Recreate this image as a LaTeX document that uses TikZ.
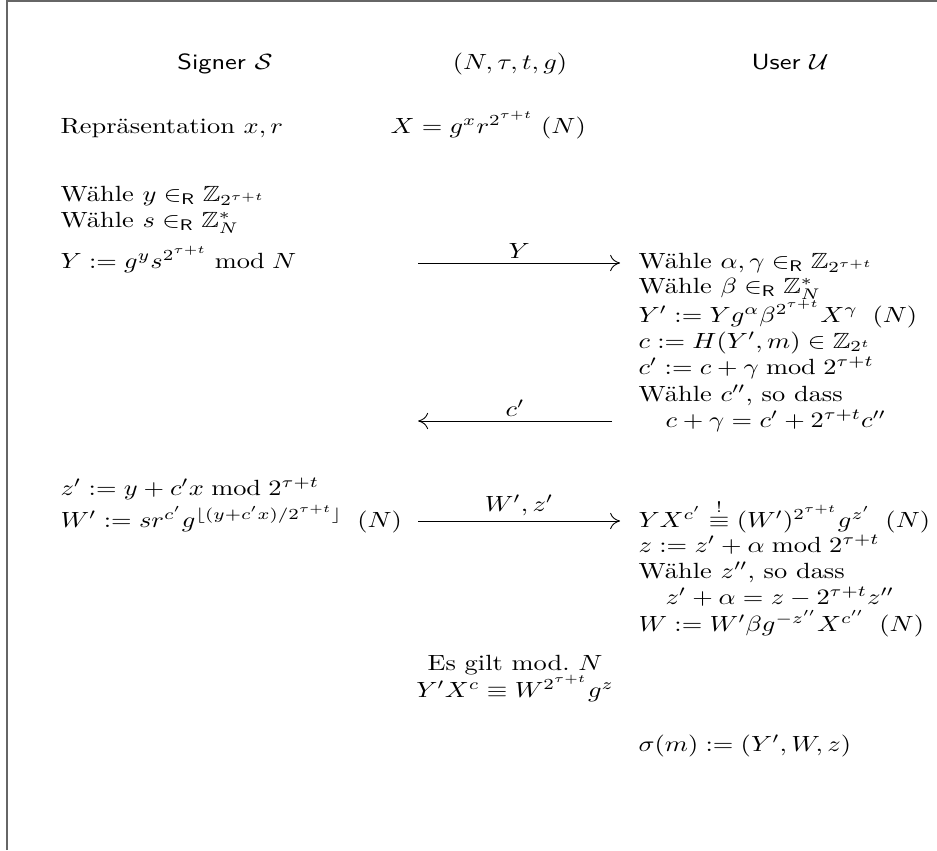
\documentclass[tikz,border=0pt]{standalone}
\usepackage{amsmath,amssymb}
\usepackage{fontspec}
\usepackage{tikz}
\usetikzlibrary{arrows.meta}

\newcommand{\inR}{\in_{\mathsf{R}}}
\newcommand{\tpow}{2^{\tau+t}}

\begin{document}
\begin{tikzpicture}[
  xscale=1.2, x=0.37883pt, y=-0.4546pt,
  frame/.style={draw=black!60, line width=1pt},
  line/.style={anchor=base west, inner sep=0pt, transform shape},
  midline/.style={anchor=base, inner sep=0pt, transform shape},
  head/.style={anchor=base, inner sep=0pt, transform shape},
  msg/.style={-{To[length=1.6mm,width=2.6mm]}, line width=0.4pt},
  lab/.style={above, inner sep=2pt, transform shape}]

\useasboundingbox (0,0) rectangle (937,850);
\draw[frame] (7,850) |- (937,1);

% header
\node[head] (signer) at (225,69) {\textsf{Signer} $\mathcal{S}$};
\node[head] (param) at (510,69) {$(N,\tau,t,g)$};
\node[head] (user) at (790,69) {\textsf{User} $\mathcal{U}$};

% signer
\node[line] (s1) at (60,133) {Repräsentation $x,r$};
\node[line] (s2) at (60,201) {Wähle $y \inR \mathbb{Z}_{\tpow}$};
\node[line] (s3) at (60,227) {Wähle $s \inR \mathbb{Z}_N^*$};
\node[line] (s4) at (60,268) {$Y := g^y s^{\tpow} \bmod N$};
\node[line] (s5) at (60,495) {$z' := y + c'x \bmod \tpow$};
\node[line] (s6) at (60,527) {$W' := s r^{c'} g^{\lfloor (y+c'x)/\tpow \rfloor}\;\;(N)$};

% public
\node[line] (p1) at (390,133) {$X = g^x r^{\tpow}\;(N)$};
\node[midline] (p2) at (515,670) {Es gilt mod.\ $N$};
\node[midline] (p3) at (515,697) {$Y'X^c \equiv W^{\tpow} g^z$};

% user
\node[line] (u1) at (638,268) {Wähle $\alpha,\gamma \inR \mathbb{Z}_{\tpow}$};
\node[line] (u2) at (638,293) {Wähle $\beta \inR \mathbb{Z}_N^*$};
\node[line] (u3) at (638,322) {$Y' := Y g^\alpha \beta^{\tpow} X^\gamma\;\;(N)$};
\node[line] (u4) at (638,348) {$c := H(Y',m) \in \mathbb{Z}_{2^t}$};
\node[line] (u5) at (638,374) {$c' := c + \gamma \bmod \tpow$};
\node[line] (u6) at (638,401) {Wähle $c''$, so dass};
\node[line] (u7) at (665,427) {$c + \gamma = c' + \tpow c''$};
\node[line] (u8) at (638,527) {$Y X^{c'} \overset{!}{\equiv} (W')^{\tpow} g^{z'}\;\;(N)$};
\node[line] (u9) at (638,552) {$z := z' + \alpha \bmod \tpow$};
\node[line] (u10) at (638,578) {Wähle $z''$, so dass};
\node[line] (u11) at (665,604) {$z' + \alpha = z - \tpow z''$};
\node[line] (u12) at (638,631) {$W := W'\beta g^{-z''} X^{c''}\;\;(N)$};
\node[line] (u13) at (638,751) {$\sigma(m) := (Y',W,z)$};

% messages
\coordinate (ya) at (418,263);
\coordinate (yb) at (620,263);
\coordinate (ca) at (612,421);
\coordinate (cb) at (418,421);
\coordinate (wa) at (418,521);
\coordinate (wb) at (620,521);

\draw[msg] (ya) -- node[lab] {$Y$} (yb);
\draw[msg] (ca) -- node[lab] {$c'$} (cb);
\draw[msg] (wa) -- node[lab] {$W',z'$} (wb);
\end{tikzpicture}
\end{document}
